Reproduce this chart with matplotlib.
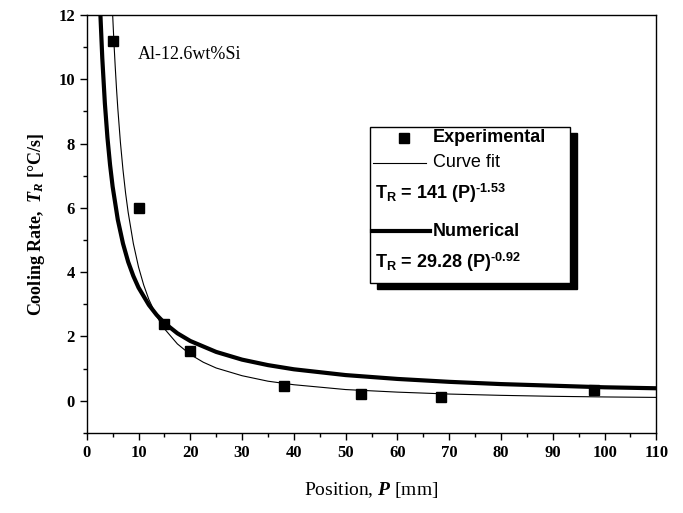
import matplotlib
matplotlib.use("Agg")
import matplotlib.pyplot as plt
from matplotlib.lines import Line2D
from matplotlib.patches import Rectangle

plt.rcParams['font.family'] = ['Liberation Serif', 'DejaVu Serif']
plt.rcParams['mathtext.fontset'] = 'custom'
plt.rcParams['mathtext.rm'] = 'Liberation Serif:bold'
plt.rcParams['mathtext.it'] = 'Liberation Serif:italic:bold'
plt.rcParams['mathtext.sf'] = 'Liberation Sans:bold'

# experimental measurements
exp_pos = [5, 10, 15, 20, 38, 53, 68.5, 98]
exp_rate = [11.2, 6.0, 2.4, 1.55, 0.45, 0.2, 0.13, 0.35]

# curve fit (thin line)
fit_pos = [5, 5.25, 5.5, 5.75, 6, 6.5, 7, 7.5, 8, 9, 10, 11, 12, 13.5, 15, 17.5, 20,
           22.5, 25, 30, 35, 40, 50, 60, 70, 80, 90, 100, 110]
fit_rate = [12.02, 11.15, 10.39, 9.70, 9.09, 8.04, 7.18, 6.46, 5.86, 4.89, 4.16, 3.60,
            3.15, 2.63, 2.24, 1.77, 1.44, 1.20, 1.02, 0.78, 0.61, 0.50, 0.35, 0.27,
            0.21, 0.17, 0.14, 0.12, 0.106]

# numerical result (thick line)
num_pos = [2.6, 3, 3.5, 4, 4.5, 5, 6, 7, 8, 9, 10, 12, 13.5, 15, 17.5, 20, 25, 30, 35,
           40, 50, 60, 70, 80, 90, 100, 110]
num_rate = [12.15, 10.66, 9.25, 8.18, 7.34, 6.66, 5.63, 4.89, 4.32, 3.88, 3.52, 2.98,
            2.67, 2.42, 2.10, 1.86, 1.52, 1.28, 1.11, 0.98, 0.80, 0.68, 0.59, 0.52,
            0.47, 0.42, 0.39]

fig = plt.figure(figsize=(6.83, 5.13), dpi=100)
ax = fig.add_axes([0.127, 0.156, 0.834, 0.815])

ax.plot(num_pos, num_rate, color='black', lw=3.0, solid_capstyle='butt')
ax.plot(fit_pos, fit_rate, color='black', lw=0.8)
ax.plot(exp_pos, exp_rate, 's', color='black', ms=7.5)

ax.set_xlim(0, 110)
ax.set_ylim(-1, 12)
ax.set_xticks(range(0, 111, 10))
ax.set_xticks(range(5, 110, 10), minor=True)
ax.set_yticks(range(0, 13, 2))
ax.set_yticks(range(-1, 12, 2), minor=True)
ax.tick_params(which='both', direction='out', top=False, right=False)
ax.tick_params(which='major', length=5, width=1, labelsize=12)
ax.tick_params(which='minor', length=3, width=1)
for lab in ax.get_xticklabels() + ax.get_yticklabels():
    lab.set_fontweight('bold')
for s in ax.spines.values():
    s.set_linewidth(1.0)

ax.set_xlabel('Position, $P$ [mm]', fontsize=14, labelpad=14)
ax.set_ylabel('Cooling Rate,  $T_R$ [°C/s]', fontsize=13, fontweight='bold', labelpad=8)

ax.text(0.09, 0.905, 'Al-12.6wt%Si', transform=ax.transAxes, fontsize=13,
        ha='left', va='center')

# legend box with black drop shadow
bx0, by0, bw, bh = 0.498, 0.359, 0.351, 0.373
ax.add_patch(Rectangle((bx0 + 0.011, by0 - 0.015), bw, bh, transform=ax.transAxes,
                       facecolor='black', edgecolor='black', zorder=5))
ax.add_patch(Rectangle((bx0, by0), bw, bh, transform=ax.transAxes,
                       facecolor='white', edgecolor='black', lw=1.0, zorder=6))

sans = ['Liberation Sans', 'DejaVu Sans']
ax.add_line(Line2D([0.557], [0.706], marker='s', color='black', ms=7.5,
                   transform=ax.transAxes, zorder=7))
ax.text(0.608, 0.706, 'Experimental', transform=ax.transAxes, fontsize=13,
        family=sans, fontweight='bold', va='center', zorder=7)
ax.add_line(Line2D([0.503, 0.596], [0.646, 0.646], color='black', lw=0.8,
                   transform=ax.transAxes, zorder=7))
ax.text(0.608, 0.646, 'Curve fit', transform=ax.transAxes, fontsize=13,
        family=sans, va='center', zorder=7)
ax.text(0.506, 0.574, r'T$_{\mathsf{R}}$ = 141 (P)$^{\mathsf{‐1.53}}$', transform=ax.transAxes,
        fontsize=13, family=sans, fontweight='bold', va='center', zorder=7)
ax.add_line(Line2D([0.500, 0.603], [0.483, 0.483], color='black', lw=3.0,
                   transform=ax.transAxes, zorder=7))
ax.text(0.608, 0.483, 'Numerical', transform=ax.transAxes, fontsize=13,
        family=sans, fontweight='bold', va='center', zorder=7)
ax.text(0.506, 0.409, r'T$_{\mathsf{R}}$ = 29.28 (P)$^{\mathsf{‐0.92}}$', transform=ax.transAxes,
        fontsize=13, family=sans, fontweight='bold', va='center', zorder=7)

fig.savefig('out.png', dpi=100)
